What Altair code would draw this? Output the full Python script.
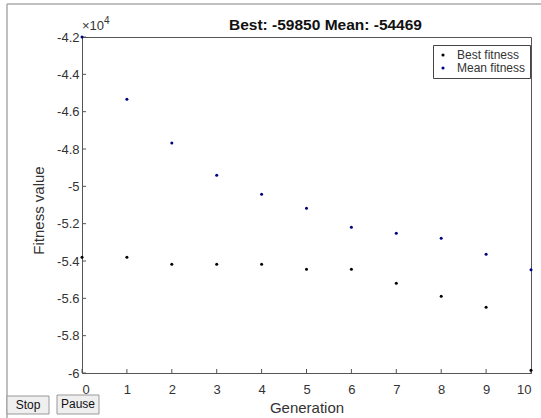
import altair as alt
import pandas as pd

generations = [0, 1, 2, 3, 4, 5, 6, 7, 8, 9, 10]
best_fitness = [-53800, -53800, -54170, -54170, -54170, -54440, -54440, -55190, -55890, -56480, -59850]
mean_fitness = [-42000, -45330, -47680, -49400, -50420, -51170, -52190, -52510, -52780, -53640, -54469]
x_ticks = [0, 1, 2, 3, 4, 5, 6, 7, 8, 9, 10]
y_ticks = [-60000, -58000, -56000, -54000, -52000, -50000, -48000, -46000, -44000, -42000]
series_names = ["Best fitness", "Mean fitness"]
series_colors = ["#000000", "#00007f"]

rows = []
for g, b in zip(generations, best_fitness):
    rows.append({"gen": g, "val": b, "series": "Best fitness"})
for g, m in zip(generations, mean_fitness):
    rows.append({"gen": g, "val": m, "series": "Mean fitness"})
df = pd.DataFrame(rows)

W, H = 449, 336
FONT = "Liberation Sans"
xscale = alt.Scale(domain=[0, 10], nice=False, zero=False)
yscale = alt.Scale(domain=[-60000, -42000], nice=False, zero=False)

xaxis = alt.Axis(values=x_ticks, title="Generation", grid=False, tickSize=0,
                 labelPadding=10, titlePadding=4, labelFontSize=13, titleFontSize=15,
                 labelColor="#333", titleColor="#333", titleFontWeight="normal",
                 domainColor="#555", labelFont=FONT, titleFont=FONT)
yaxis = alt.Axis(values=y_ticks, title="Fitness value", grid=False, tickSize=0,
                 labelExpr="'' + (datum.value / 10000)", labelPadding=3,
                 titlePadding=10, titleY=173, labelFontSize=13, titleFontSize=15,
                 labelColor="#333", titleColor="#333", titleFontWeight="normal",
                 domainColor="#555", labelFont=FONT, titleFont=FONT)

points = alt.Chart(df).mark_point(filled=True, size=9, opacity=1).encode(
    x=alt.X("gen:Q", scale=xscale, axis=xaxis),
    y=alt.Y("val:Q", scale=yscale, axis=yaxis),
    color=alt.Color("series:N", scale=alt.Scale(domain=series_names, range=series_colors),
                    legend=alt.Legend(title=None, orient="none", legendX=351, legendY=8,
                                      strokeColor="#444", fillColor="white", padding=4,
                                      labelFontSize=12, labelFont=FONT, labelColor="#333",
                                      symbolSize=10, symbolType="circle", rowPadding=1,
                                      labelOffset=8, labelLimit=120)),
)

xt = pd.DataFrame({"gen": x_ticks})
yt = pd.DataFrame({"val": y_ticks})

xtick_rules = alt.Chart(xt).mark_rule(color="#555", strokeWidth=1).encode(
    x=alt.X("gen:Q", scale=xscale, axis=xaxis), y=alt.value(H), y2=alt.value(H - 4))
ytick_rules = alt.Chart(yt).mark_rule(color="#555", strokeWidth=1).encode(
    y=alt.Y("val:Q", scale=yscale, axis=yaxis), x=alt.value(0), x2=alt.value(4))

title_text = alt.Chart(pd.DataFrame({"s": ["Best: -59850 Mean: -54469"]})).mark_text(
    font=FONT, fontSize=15.5, fontWeight="bold", color="#111", align="center", baseline="alphabetic"
).encode(text="s:N", x=alt.value(243.5), y=alt.value(-7))

exp_base = alt.Chart(pd.DataFrame({"s": ["×10"]})).mark_text(
    font=FONT, fontSize=13, color="#333", align="left", baseline="alphabetic"
).encode(text="s:N", x=alt.value(0), y=alt.value(-7))
exp_pow = alt.Chart(pd.DataFrame({"s": ["4"]})).mark_text(
    font=FONT, fontSize=10, color="#333", align="left", baseline="alphabetic"
).encode(text="s:N", x=alt.value(22), y=alt.value(-13))

# window frame lines
frame_top = alt.Chart(pd.DataFrame({"a": [0]})).mark_rule(color="#aaa", strokeWidth=1.5).encode(
    x=alt.value(-75), x2=alt.value(W + 10), y=alt.value(-33))
frame_left = alt.Chart(pd.DataFrame({"a": [0]})).mark_rule(color="#aaa", strokeWidth=1.5).encode(
    x=alt.value(-75), y=alt.value(-33), y2=alt.value(H + 45))

btn_rects = alt.Chart(pd.DataFrame({"a": [0]})).mark_rect(
    fill="#efefef", stroke="#999", strokeWidth=1).encode(
    x=alt.value(-75), x2=alt.value(-33), y=alt.value(H + 23), y2=alt.value(H + 41))
btn_rects2 = alt.Chart(pd.DataFrame({"a": [0]})).mark_rect(
    fill="#efefef", stroke="#999", strokeWidth=1).encode(
    x=alt.value(-25), x2=alt.value(17), y=alt.value(H + 22), y2=alt.value(H + 41))
btn_t1 = alt.Chart(pd.DataFrame({"s": ["Stop"]})).mark_text(
    font=FONT, fontSize=12, color="#111", align="center", baseline="middle").encode(
    text="s:N", x=alt.value(-54), y=alt.value(H + 32))
btn_t2 = alt.Chart(pd.DataFrame({"s": ["Pause"]})).mark_text(
    font=FONT, fontSize=12, color="#111", align="center", baseline="middle").encode(
    text="s:N", x=alt.value(-4), y=alt.value(H + 31))

chart = alt.layer(
    frame_top, frame_left, xtick_rules, ytick_rules, points, title_text, exp_base, exp_pow,
    btn_rects, btn_rects2, btn_t1, btn_t2
).properties(
    width=W, height=H,
    autosize=alt.AutoSizeParams(type="none"),
    padding={"left": 82, "top": 37, "right": 10, "bottom": 45},
    background="white",
).configure_view(stroke="#555", strokeWidth=1)

chart.save("out.html", embed_options={"renderer": "svg", "actions": False})
